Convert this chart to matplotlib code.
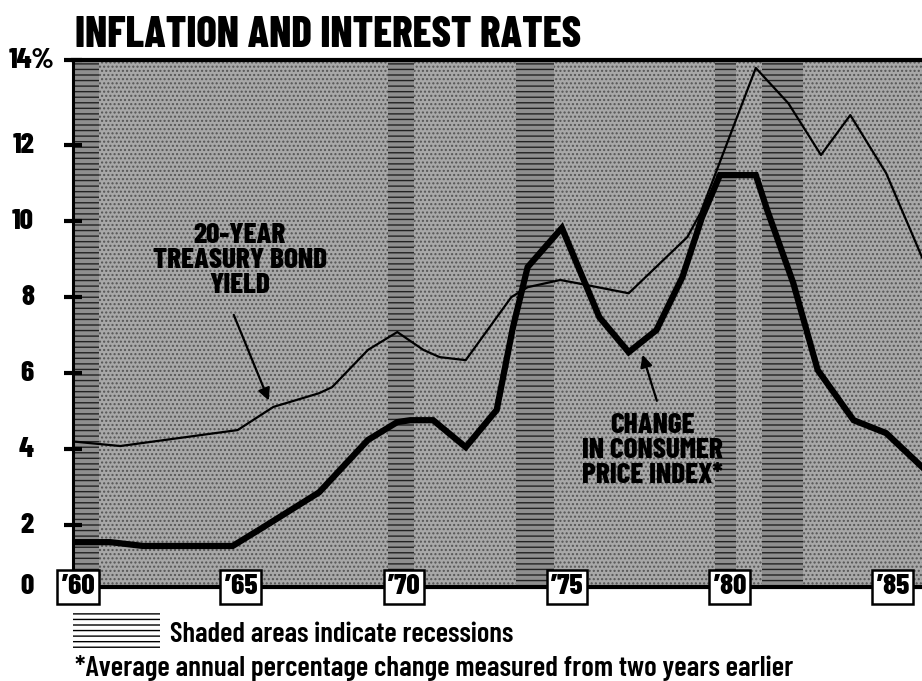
import matplotlib
matplotlib.use('Agg')
import matplotlib.pyplot as plt
from matplotlib import font_manager as fm
from matplotlib.patches import Rectangle

# fonte condensada (a primeira que existir)
names = {f.name for f in fm.fontManager.ttflist}
cond = 'DejaVu Sans'
for nm in ['Barlow Condensed', 'Roboto Condensed', 'Archivo Narrow', 'Oswald', 'Liberation Sans Narrow']:
    if nm in names:
        cond = nm
        break
plt.rcParams['font.family'] = [cond, 'DejaVu Sans']
plt.rcParams['hatch.linewidth'] = 1.0

# Rendimento do título do Tesouro de 20 anos (%)
bond_years = [1959.85, 1961.3, 1964.9, 1966.0, 1967.4, 1967.8, 1968.9, 1969.8, 1970.6,
              1971.1, 1971.9, 1973.3, 1973.8, 1974.8, 1975.3, 1976.9, 1978.7, 1979.1,
              1980.8, 1981.8, 1982.8, 1983.7, 1984.8, 1985.9]
bond_yield = [4.2, 4.08, 4.5, 5.11, 5.47, 5.63, 6.61, 7.08, 6.61,
              6.42, 6.34, 8.0, 8.26, 8.45, 8.37, 8.1, 9.58, 10.21,
              14.03, 13.1, 11.74, 12.79, 11.26, 9.05]

# Variação do índice de preços ao consumidor (%)
cpi_years = [1959.85, 1961.0, 1962.0, 1964.75, 1965.7, 1967.4, 1968.9, 1969.8, 1970.2,
             1970.9, 1971.9, 1972.85, 1973.35, 1973.8, 1974.85, 1976.0, 1976.9, 1977.75,
             1978.55, 1979.15, 1979.7, 1980.8, 1981.15, 1981.95, 1982.7, 1983.8, 1984.8, 1985.9]
cpi_change = [1.55, 1.55, 1.45, 1.45, 1.95, 2.86, 4.24, 4.71, 4.76,
              4.76, 4.05, 5.03, 7.21, 8.79, 9.82, 7.47, 6.55, 7.13,
              8.53, 10.1, 11.21, 11.21, 10.29, 8.37, 6.08, 4.76, 4.42, 3.53]

# Recessões (início, fim)
recessions = [(1959.85, 1960.65), (1969.5, 1970.3), (1973.45, 1974.6),
              (1979.55, 1980.2), (1980.98, 1982.25)]

year_ticks = [1960, 1965, 1970, 1975, 1980, 1985]
year_labels = ['’60', '’65', '’70', '’75', '’80', '’85']
y_ticks = [0.37, 2, 4, 6, 8, 10, 12]
y_labels = ['0', '2', '4', '6', '8', '10', '12']

ymin, ymax = 0.37, 14.24
xmin, xmax = 1959.85, 1985.9

fig = plt.figure(figsize=(9.22, 6.81), dpi=100)
ax = fig.add_axes([73 / 922, 1 - 587 / 681, 1 - 73 / 922, (587 - 60) / 681])
ax.set_xlim(xmin, xmax)
ax.set_ylim(ymin, ymax)

# fundo pontilhado
ax.add_patch(Rectangle((0, 0), 1, 1, transform=ax.transAxes, facecolor='#a8a8a8',
                       edgecolor='#555555', lw=0, hatch='....', zorder=0))
for a, b in recessions:
    ax.axvspan(a, b, facecolor='#8e8e8e', edgecolor='#222222', lw=0, hatch='---', zorder=0.5)

ax.plot(bond_years, bond_yield, color='black', lw=1.6, zorder=3)
ax.plot(cpi_years, cpi_change, color='black', lw=4.5, solid_joinstyle='miter', zorder=3)

# eixos
ax.spines['right'].set_visible(False)
ax.spines['left'].set_linewidth(2.2)
ax.spines['top'].set_linewidth(3)
ax.spines['bottom'].set_linewidth(3)
ax.set_xticks([])
ax.set_yticks([2, 4, 6, 8, 10, 12, ymax])
ax.tick_params(axis='y', direction='inout', length=13, width=3, labelleft=False)

ytr = ax.get_yaxis_transform()
for v, lab in zip(y_ticks, y_labels):
    ax.text((34 - 73) / 849, v, lab, transform=ytr, ha='right', va='center',
            fontsize=21, fontweight='heavy', clip_on=False)
ax.text((9 - 73) / 849, ymax, '14%', transform=ytr, ha='left', va='center',
        fontsize=21, fontweight='heavy', clip_on=False)

for yr, lab in zip(year_ticks, year_labels):
    ax.text(yr, ymin, lab, ha='center', va='center', fontsize=21, fontweight='heavy',
            clip_on=False, zorder=5,
            bbox=dict(boxstyle='square,pad=0.15', fc='white', ec='black', lw=1.8))

# rótulos das séries
ax.text(1964.97, 8.97, '20-YEAR\nTREASURY BOND\nYIELD', ha='center', va='center',
        fontsize=21, fontweight='heavy', linespacing=1.0, zorder=4)
ax.annotate('', xy=(1965.89, 5.21), xytext=(1964.75, 7.6),
            arrowprops=dict(arrowstyle='-|>', lw=1.6, color='black', mutation_scale=18), zorder=4)
ax.text(1977.64, 3.97, 'CHANGE\nIN CONSUMER\nPRICE INDEX*', ha='center', va='center',
        fontsize=21, fontweight='heavy', linespacing=1.0, zorder=4)
ax.annotate('', xy=(1977.3, 6.55), xytext=(1977.79, 5.2),
            arrowprops=dict(arrowstyle='-|>', lw=1.6, color='black', mutation_scale=18), zorder=4)

# título
title = fig.text(75 / 922, 1 - 47 / 681, 'INFLATION AND INTEREST RATES', ha='left',
                 va='baseline', fontsize=30, fontweight='heavy')

# notas de rodapé
fig.add_artist(Rectangle((73 / 922, 1 - 648 / 681), 87 / 922, 35 / 681,
                         transform=fig.transFigure, facecolor='white', edgecolor='black',
                         lw=0, hatch='---'))
note1 = fig.text(170 / 922, 1 - 635 / 681, 'Shaded areas indicate recessions', ha='left',
                 va='center', fontsize=19, fontweight='semibold')
note2 = fig.text(75 / 922, 1 - 668 / 681,
                 '*Average annual percentage change measured from two years earlier',
                 ha='left', va='center', fontsize=19, fontweight='semibold')

# ajusta o tamanho da letra à largura do original
r = fig.canvas.get_renderer()
for t, w in [(title, 508), (note1, 342), (note2, 717)]:
    cur = t.get_window_extent(r).width
    t.set_fontsize(t.get_fontsize() * w / cur)

fig.savefig('out.png', dpi=100)
